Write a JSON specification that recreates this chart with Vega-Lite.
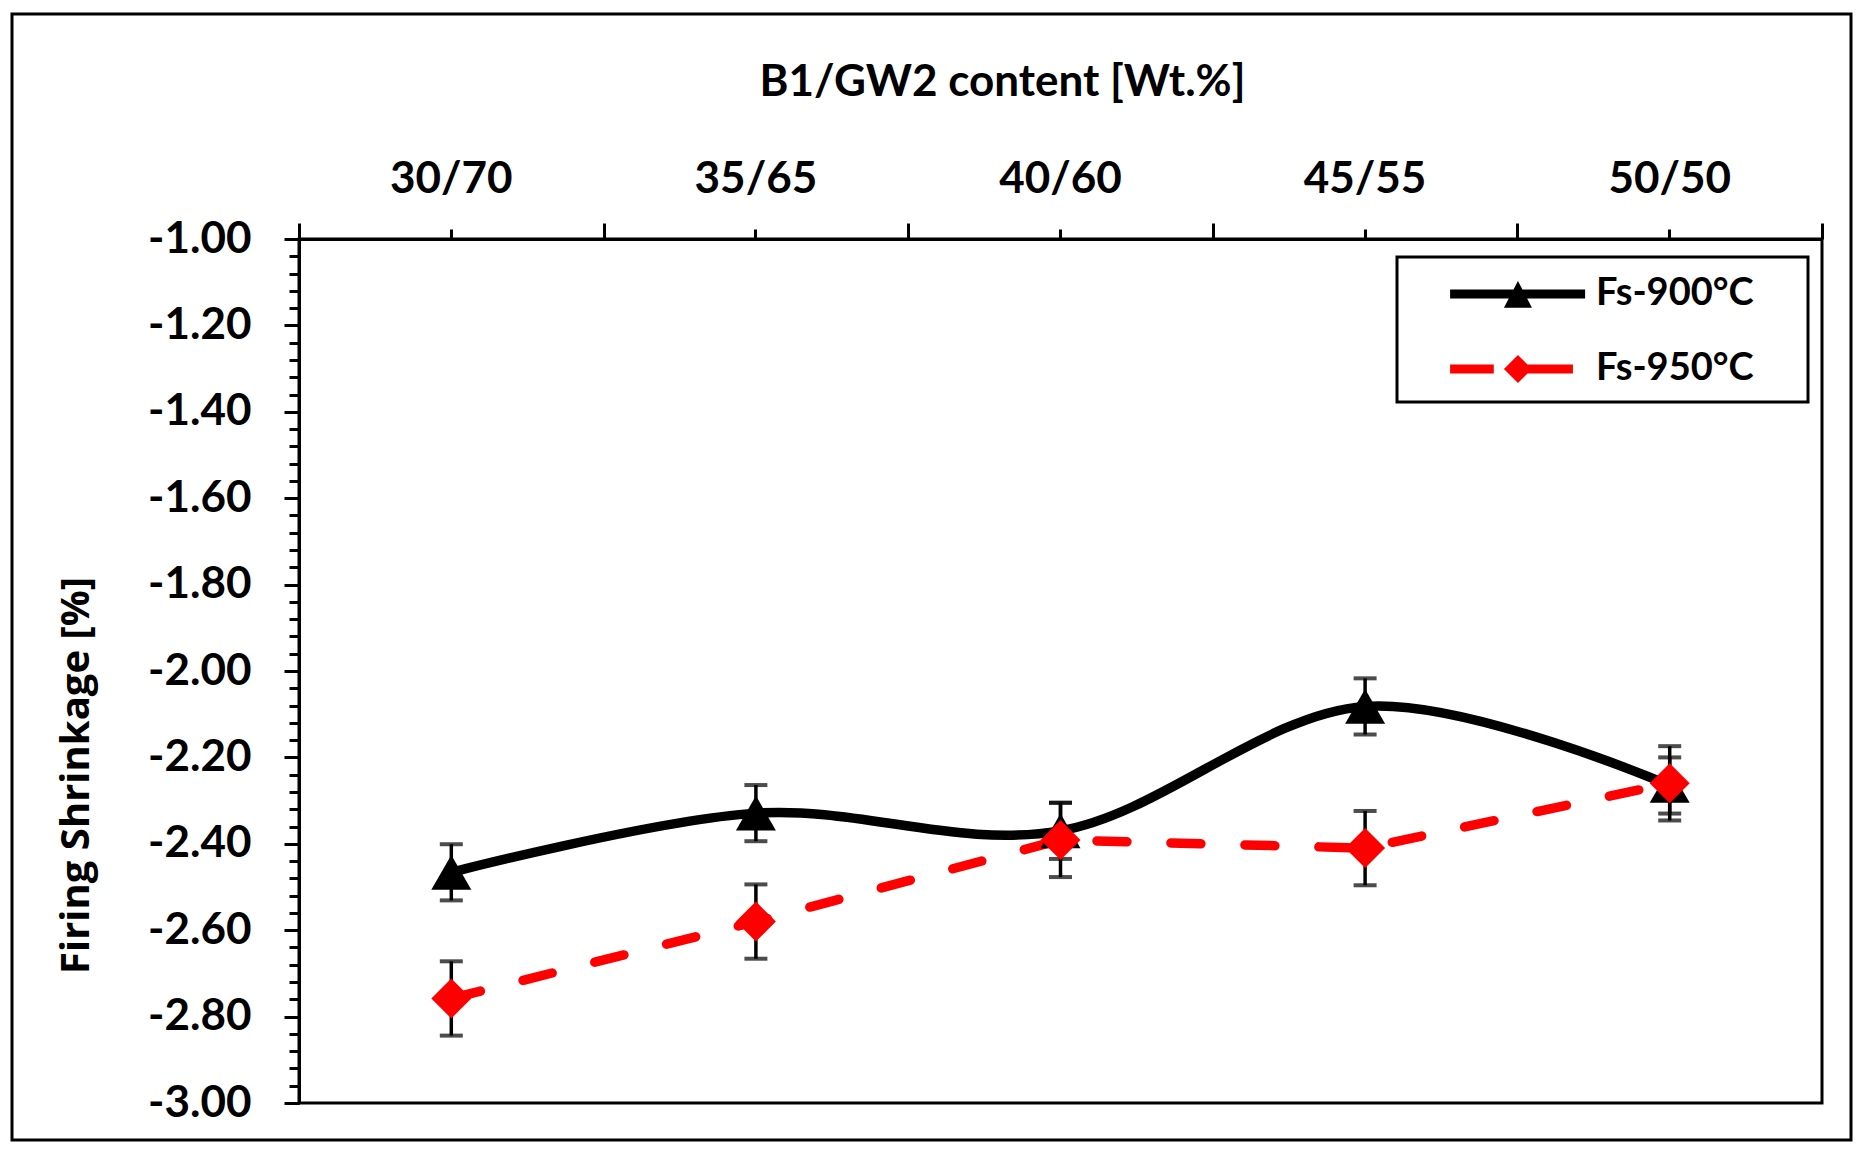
{
  "$schema": "https://vega.github.io/schema/vega-lite/v6.json",
  "width": 1523,
  "height": 864,
  "autosize": "none",
  "padding": {"left": 299, "top": 239, "right": 39, "bottom": 46},
  "background": "white",
  "data": {
    "values": [
      {"ratio": "30/70", "series": "Fs-900°C", "value": -2.466, "lo": -2.531, "hi": -2.401},
      {"ratio": "35/65", "series": "Fs-900°C", "value": -2.329, "lo": -2.394, "hi": -2.264},
      {"ratio": "40/60", "series": "Fs-900°C", "value": -2.370, "lo": -2.435, "hi": -2.305},
      {"ratio": "45/55", "series": "Fs-900°C", "value": -2.082, "lo": -2.147, "hi": -2.017},
      {"ratio": "50/50", "series": "Fs-900°C", "value": -2.265, "lo": -2.330, "hi": -2.200},
      {"ratio": "30/70", "series": "Fs-950°C", "value": -2.758, "lo": -2.844, "hi": -2.672},
      {"ratio": "35/65", "series": "Fs-950°C", "value": -2.580, "lo": -2.666, "hi": -2.494},
      {"ratio": "40/60", "series": "Fs-950°C", "value": -2.391, "lo": -2.477, "hi": -2.305},
      {"ratio": "45/55", "series": "Fs-950°C", "value": -2.410, "lo": -2.496, "hi": -2.324},
      {"ratio": "50/50", "series": "Fs-950°C", "value": -2.260, "lo": -2.346, "hi": -2.174}
    ]
  },
  "resolve": {"axis": {"x": "independent", "y": "independent"}},
  "layer": [
    {
      "transform": [{"filter": "datum.series == 'Fs-900°C'"}],
      "mark": {"type": "line", "interpolate": "cardinal", "strokeWidth": 9.5, "strokeCap": "round"},
      "encoding": {
        "x": {
          "field": "ratio", "type": "ordinal",
          "scale": {"type": "band", "paddingInner": 0, "paddingOuter": 0},
          "axis": {
            "orient": "top", "bandPosition": 0.5, "tickSize": 10, "labelPadding": 28, "labelAngle": 0,
            "title": "B1/GW2 content [Wt.%]", "titleFont": "Lato", "titleFontSize": 44, "titleFontWeight": "bold",
            "titleColor": "black", "titleAnchor": null, "titleAlign": "center", "titleBaseline": "alphabetic",
            "titleX": 703, "titleY": -144
          }
        },
        "y": {
          "field": "value", "type": "quantitative",
          "scale": {"domain": [-3, -1], "nice": false, "zero": false},
          "axis": {
            "orient": "left",
            "values": [-3, -2.8, -2.6, -2.4, -2.2, -2, -1.8, -1.6, -1.4, -1.2, -1],
            "labelExpr": "replace(format(datum.value, '.2f'), '\u2212', '-')",
            "tickSize": 15, "labelPadding": 33,
            "title": "Firing Shrinkage [%]", "titleFont": "Open Sans", "titleFontSize": 40, "titleFontWeight": "bold",
            "titleColor": "black", "titleAnchor": null, "titleAngle": -90, "titleAlign": "center", "titleBaseline": "alphabetic",
            "titleX": -211, "titleY": 536
          }
        },
        "color": {
          "field": "series", "type": "nominal",
          "scale": {"domain": ["Fs-900°C", "Fs-950°C"], "range": ["#000000", "#ff0000"]},
          "legend": {
            "title": null, "orient": "none", "legendX": 1098, "legendY": 18,
            "symbolSize": 2116, "labelOffset": 139, "rowPadding": 33, "padding": 14,
            "labelLimit": 400,
            "strokeColor": "black", "fillColor": "white",
            "labelFont": "Lato", "labelFontSize": 38, "labelFontWeight": "bold", "labelColor": "black",
            "encode": {
              "legend": {"update": {"strokeWidth": {"value": 3}}},
              "symbols": {
                "update": {
                  "shape": {"signal": "datum.value == 'Fs-900°C' ? 'M0.7,-0.2H6.57V0.2H0.7Z M3.65,-0.57L4.26,0.6L3.04,0.6Z M15.65,0L15.65,0' : 'M0.7,-0.2H2.6V0.2H0.7Z M3.65,-0.61L4.26,0L3.65,0.61L3.04,0Z M3.65,-0.2H6.04V0.2H3.65Z M15.65,0L15.65,0'"},
                  "fill": {"scale": "color", "field": "value"},
                  "stroke": {"value": "transparent"},
                  "strokeWidth": {"value": 0},
                  "opacity": {"value": 1}
                }
              }
            }
          }
        }
      }
    },
    {
      "transform": [{"filter": "datum.series == 'Fs-950°C'"}],
      "mark": {"type": "line", "strokeWidth": 9.5, "strokeDash": [30, 44], "strokeCap": "round"},
      "encoding": {
        "x": {
          "field": "ratio", "type": "ordinal",
          "scale": {"type": "band", "paddingInner": 0, "paddingOuter": 0},
          "axis": {"orient": "top", "tickBand": "extent", "tickSize": 16, "labels": false, "title": null}
        },
        "y": {
          "field": "value", "type": "quantitative",
          "scale": {"domain": [-3, -1], "nice": false, "zero": false},
          "axis": {
            "orient": "left",
            "values": [-3, -2.96, -2.92, -2.88, -2.84, -2.8, -2.76, -2.72, -2.68, -2.64, -2.6, -2.56, -2.52, -2.48, -2.44, -2.4, -2.36, -2.32, -2.28, -2.24, -2.2, -2.16, -2.12, -2.08, -2.04, -2, -1.96, -1.92, -1.88, -1.84, -1.8, -1.76, -1.72, -1.68, -1.64, -1.6, -1.56, -1.52, -1.48, -1.44, -1.4, -1.36, -1.32, -1.28, -1.24, -1.2, -1.16, -1.12, -1.08, -1.04, -1],
            "tickSize": 10, "labels": false, "title": null
          }
        },
        "color": {"field": "series", "type": "nominal"}
      }
    },
    {
      "transform": [{"filter": "datum.series == 'Fs-900°C'"}],
      "mark": {"type": "errorbar", "ticks": {"size": 23, "thickness": 4, "color": "black"}, "rule": {"strokeWidth": 3.5, "color": "black"}},
      "encoding": {
        "x": {"field": "ratio", "type": "ordinal", "scale": {"type": "band", "paddingInner": 0, "paddingOuter": 0}, "axis": null},
        "y": {"field": "lo", "type": "quantitative", "scale": {"domain": [-3, -1], "nice": false, "zero": false}, "axis": null},
        "y2": {"field": "hi"}
      }
    },
    {
      "transform": [{"filter": "datum.series == 'Fs-900°C'"}],
      "mark": {"type": "point", "shape": "triangle-up", "filled": true, "size": 1600, "opacity": 1, "color": "black"},
      "encoding": {
        "x": {"field": "ratio", "type": "ordinal", "scale": {"type": "band", "paddingInner": 0, "paddingOuter": 0}, "axis": null},
        "y": {"field": "value", "type": "quantitative", "scale": {"domain": [-3, -1], "nice": false, "zero": false}, "axis": null}
      }
    },
    {
      "transform": [{"filter": "datum.series == 'Fs-950°C'"}],
      "mark": {"type": "errorbar", "ticks": {"size": 23, "thickness": 4, "color": "black"}, "rule": {"strokeWidth": 3.5, "color": "black"}},
      "encoding": {
        "x": {"field": "ratio", "type": "ordinal", "scale": {"type": "band", "paddingInner": 0, "paddingOuter": 0}, "axis": null},
        "y": {"field": "lo", "type": "quantitative", "scale": {"domain": [-3, -1], "nice": false, "zero": false}, "axis": null},
        "y2": {"field": "hi"}
      }
    },
    {
      "transform": [{"filter": "datum.series == 'Fs-950°C'"}],
      "mark": {"type": "point", "shape": "diamond", "filled": true, "size": 1600, "color": "#ff0000"},
      "encoding": {
        "x": {"field": "ratio", "type": "ordinal", "scale": {"type": "band", "paddingInner": 0, "paddingOuter": 0}, "axis": null},
        "y": {"field": "value", "type": "quantitative", "scale": {"domain": [-3, -1], "nice": false, "zero": false}, "axis": null},
        "opacity": {
          "field": "series", "type": "nominal",
          "scale": {"range": [1]},
          "legend": {
            "title": null, "orient": "none", "legendX": -287, "legendY": -225,
            "symbolSize": 0, "labelOffset": 715, "padding": 561,
            "labelExpr": "''", "labelFontSize": 1,
            "strokeColor": "black", "fillColor": null
          }
        }
      }
    }
  ],
  "config": {
    "view": {"stroke": "black", "strokeWidth": 3},
    "legend": {"strokeWidth": 3},
    "axis": {
      "grid": false,
      "domainColor": "black", "domainWidth": 3,
      "tickColor": "black", "tickWidth": 3,
      "labelColor": "black", "labelFont": "Lato", "labelFontSize": 44, "labelFontWeight": "bold"
    }
  }
}
